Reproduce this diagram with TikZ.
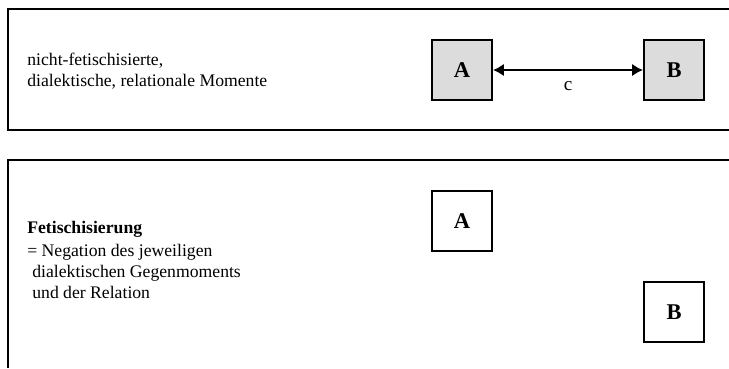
\documentclass[tikz,border=0pt]{standalone}
\usepackage{fontspec}
\setmainfont{Liberation Serif}
\usetikzlibrary{arrows.meta}
\definecolor{boxgrey}{RGB}{220,220,220}

\begin{document}
\begin{tikzpicture}[x=0.6pt,y=-0.6pt,
	frame/.style={line width=1.2pt},
	moment/.style={draw,line width=1.2pt,minimum width=36pt,minimum height=36pt,inner sep=0pt,
		font=\fontsize{13.5}{16}\selectfont\bfseries},
	txt/.style={anchor=base west,align=left,inner sep=0pt,font=\fontsize{10.6}{12.5}\selectfont}]
			\useasboundingbox (0,0) rectangle (729,368);
			\draw[frame] (729,9) -| (8,130) -- (729,130);
			\draw[frame] (729,160) -| (8,368);
			
			\node[txt] (momente) at (27,86) {nicht-fetischisierte,\\dialektische, relationale Momente};
			\node[moment, fill=boxgrey] (topA) at (462,70) {A};
			\node[moment, fill=boxgrey] (topB) at (674,70) {B};
			\draw[line width=1.5pt, {Latex[length=6.5pt,width=7.5pt]}-{Latex[length=6.5pt,width=7.5pt]}]
			(topA) -- node (rel) [below=2.5pt, font=\fontsize{11.5}{13}\selectfont] {c} (topB);
			
			\node[txt] (fetisch) at (27,298) {\textbf{Fetischisierung}\\[1.5pt]
				= Negation des jeweiligen\\
				\hspace*{3pt}dialektischen Gegenmoments\\
				\hspace*{3pt}und der Relation};
			\node[moment] (botA) at (462,221) {A};
			\node[moment] (botB) at (674,312) {B};
		\end{tikzpicture}
\end{document}
